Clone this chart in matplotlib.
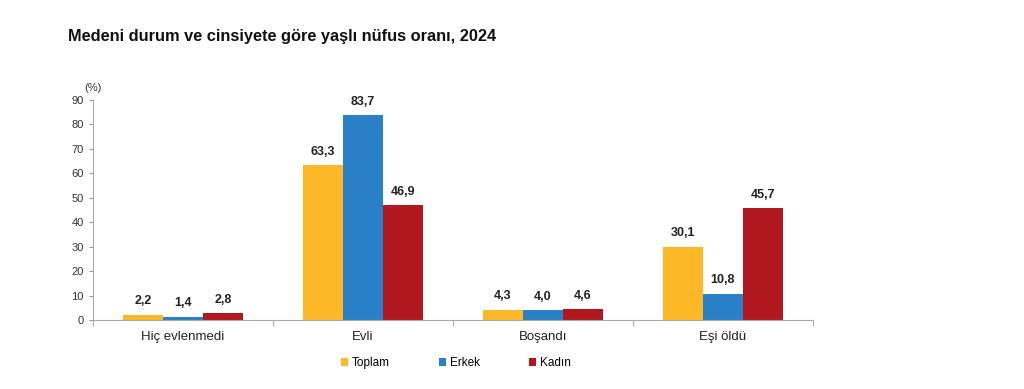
import numpy as np
import matplotlib.pyplot as plt

categories = ["Hiç evlenmedi", "Evli", "Boşandı", "Eşi öldü"]
series = ["Toplam", "Erkek", "Kadın"]
toplam = [2.2, 63.3, 4.3, 30.1]
erkek = [1.4, 83.7, 4.0, 10.8]
kadin = [2.8, 46.9, 4.6, 45.7]
yticks = list(range(0, 91, 10))

colors = ["#FDB827", "#2A80C6", "#B0171F"]
plt.rcParams['font.family'] = ['Liberation Sans', 'DejaVu Sans']

fig = plt.figure(figsize=(10.24, 3.89), dpi=100)
ax = fig.add_axes([0.0908, 0.177, 0.703, 0.566])

x = np.arange(len(categories))
w = 0.222
for i, (vals, name) in enumerate(zip([toplam, erkek, kadin], series)):
    pos = x + (i - 1) * w
    ax.bar(pos, vals, width=w, color=colors[i], label=name)
    for p, v in zip(pos, vals):
        ax.text(p, v + 3, f"{v:.1f}".replace(".", ","), ha="center", va="bottom",
                fontsize=9, fontweight="bold", color="#222222")

ax.set_xlim(-0.5, len(categories) - 0.5)
ax.set_ylim(0, 90)
ax.set_yticks(yticks)
ax.tick_params(axis="y", labelsize=8, colors="#999999", labelcolor="#333333", length=3)
ax.set_xticks(x)
ax.set_xticklabels(categories, fontsize=9.5, color="#222222")
ax.tick_params(axis="x", length=0, pad=8)
ax.set_xticks(np.arange(-0.5, len(categories)), minor=True)
ax.tick_params(axis="x", which="minor", length=4, color="#999999")
for s in ["top", "right"]:
    ax.spines[s].set_visible(False)
for s in ["left", "bottom"]:
    ax.spines[s].set_color("#aaaaaa")

ax.text(-0.5, 93, "(%)", fontsize=8, color="#333333", ha="center", va="bottom")

fig.text(0.066, 0.905, "Medeni durum ve cinsiyete göre yaşlı nüfus oranı, 2024",
         fontsize=11.8, fontweight="bold", color="#111111", va="center")

fig.legend(loc="center", bbox_to_anchor=(0.445, 0.067), ncol=3, frameon=False,
           fontsize=8.5, handlelength=0.6, handleheight=0.6, handletextpad=0.3,
           columnspacing=4.2)

fig.savefig("out.png", dpi=100)
